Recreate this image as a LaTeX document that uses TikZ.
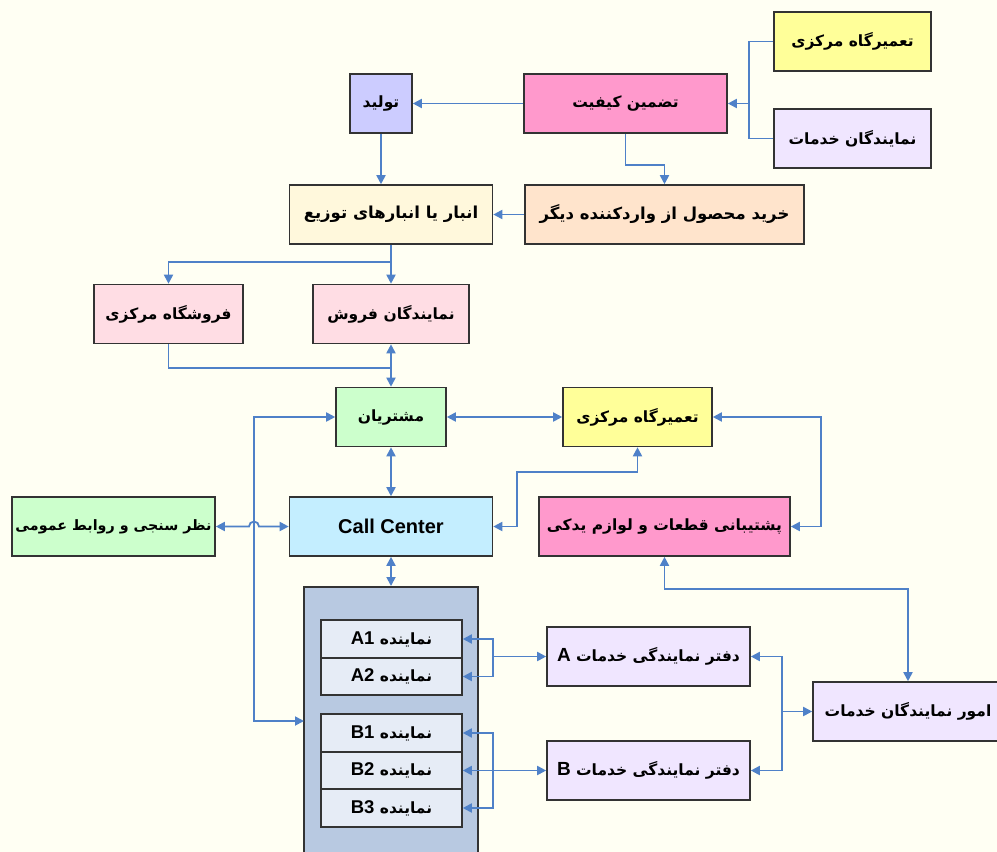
\documentclass[tikz,border=0pt]{standalone}
\usepackage{fontspec}
\setmainfont{Liberation Sans}
\newfontfamily\fafont[Script=Arabic]{DejaVu Sans}
\TeXXeTstate=1
\usetikzlibrary{arrows.meta}

\definecolor{bgcream}{HTML}{FFFFF3}
\definecolor{boxline}{HTML}{333333}
\definecolor{linkblue}{HTML}{4F81C8}
\definecolor{yelbox}{HTML}{FFFF99}
\definecolor{lavbox}{HTML}{F0E6FF}
\definecolor{pinkbox}{HTML}{FF99CC}
\definecolor{lilacbox}{HTML}{CCCCFF}
\definecolor{silkbox}{HTML}{FFF8DC}
\definecolor{peachbox}{HTML}{FFE4CC}
\definecolor{rosebox}{HTML}{FFDDE4}
\definecolor{greenbox}{HTML}{CCFFCC}
\definecolor{cyanbox}{HTML}{C4EEFF}
\definecolor{panelblue}{HTML}{B8C9E1}
\definecolor{rowblue}{HTML}{E6ECF6}

\newcommand\fatxt[2][15.5]{{\fafont\bfseries\fontsize{#1}{20}\selectfont\beginR #2\endR}}
\newcommand\rowtxt[1]{{\fafont\bfseries\fontsize{15.5}{19}\selectfont\beginR نماینده \beginL{\rmfamily\bfseries\fontsize{18.5}{19}\selectfont #1}\endL\endR}}
\newcommand\offtxt[1]{{\fafont\bfseries\fontsize{15.5}{20}\selectfont\beginR دفتر نمایندگی خدمات \beginL{\rmfamily\bfseries\fontsize{19}{20}\selectfont #1}\endL\endR}}

\begin{document}
\begin{tikzpicture}[x=1pt,y=-1pt,
  box/.style={draw=boxline,line width=1.6pt,minimum height=59,inner sep=0pt},
  row/.style={draw=boxline,line width=1.6pt,fill=rowblue,minimum width=141,minimum height=37.5,inner sep=0pt},
  link/.style={draw=linkblue,line width=1.8pt},
  arr/.style={link,-{Triangle[length=9pt,width=9pt]}},
  arrs/.style={link,{Triangle[length=9pt,width=9pt]}-{Triangle[length=9pt,width=9pt]}}]
\useasboundingbox[fill=bgcream] (0,0) rectangle (997,852);

\node[box,fill=yelbox,minimum width=157] (rep1) at (852.5,41.5) {\fatxt{تعمیرگاه مرکزی}};
\node[box,fill=lavbox,minimum width=157] (svc1) at (852.5,138.5) {\fatxt{نمایندگان خدمات}};
\node[box,fill=pinkbox,minimum width=203] (qa) at (625.5,103.5) {\fatxt{تضمین کیفیت}};
\node[box,fill=lilacbox,minimum width=62] (prod) at (381,103.5) {\fatxt{تولید}};
\node[box,fill=silkbox,minimum width=203] (store) at (391,214.5) {\fatxt[16.5]{انبار یا انبارهای توزیع}};
\node[box,fill=peachbox,minimum width=279] (buy) at (664.5,214.5) {\fatxt[16.5]{خرید محصول از واردکننده دیگر}};
\node[box,fill=rosebox,minimum width=149] (shop) at (168.5,314) {\fatxt{فروشگاه مرکزی}};
\node[box,fill=rosebox,minimum width=156] (sales) at (391,314) {\fatxt{نمایندگان فروش}};
\node[box,fill=greenbox,minimum width=110] (cust) at (391,417) {\fatxt{مشتریان}};
\node[box,fill=yelbox,minimum width=149] (rep2) at (637.5,417) {\fatxt{تعمیرگاه مرکزی}};
\node[box,fill=greenbox,minimum width=203] (poll) at (113.5,526.5) {\fatxt[14.3]{نظر سنجی و روابط عمومی}};
\node[box,fill=cyanbox,minimum width=203] (cc) at (391,526.5) {\bfseries\fontsize{20}{22}\selectfont Call Center};
\node[box,fill=pinkbox,minimum width=251] (parts) at (664.5,526.5) {\fatxt{پشتیبانی قطعات و لوازم یدکی}};

\node[box,fill=panelblue,minimum width=174,minimum height=290,anchor=north] (panel) at (391,586) {};
\node[row] (a1) at (391.5,639) {\rowtxt{A1}};
\node[row] (a2) at (391.5,676.5) {\rowtxt{A2}};
\node[row] (b1) at (391.5,733) {\rowtxt{B1}};
\node[row] (b2) at (391.5,770.5) {\rowtxt{B2}};
\node[row] (b3) at (391.5,808) {\rowtxt{B3}};

\node[box,fill=lavbox,minimum width=203] (offA) at (648.5,656.5) {\offtxt{A}};
\node[box,fill=lavbox,minimum width=203] (offB) at (648.5,770.5) {\offtxt{B}};
\node[box,fill=lavbox,minimum width=190] (svcaff) at (908,711.5) {\fatxt{امور نمایندگان خدمات}};

\coordinate (j1) at (749,103.5);
\coordinate (j2) at (391,262);
\coordinate (j3) at (391,368);
\coordinate (pin) at (304,721);
\coordinate (j4) at (782,711.5);
\coordinate (j5) at (493,656.5);
\coordinate (j6) at (493,770.5);

\draw[link] (rep1.west) -| (j1);
\draw[link] (svc1.west) -| (j1);
\draw[arr] (j1) -- (qa.east);
\draw[arr] (qa.west) -- (prod.east);
\draw[arr] (qa.south) -- ++(0,31) -| (buy.north);
\draw[arr] (prod.south) -- (prod.south |- store.north);
\draw[arr] (buy.west) -- (store.east);
\draw[link] (store.south) -- (j2);
\draw[arr] (j2) -| (shop.north);
\draw[arr] (j2) -- (sales.north);
\draw[link] (shop.south) |- (j3);
\draw[arrs] (sales.south) -- (cust.north);
\draw[arrs] (cust.east) -- (rep2.west);
\draw[arrs] (cust.south) -- (cc.north);
\draw[arrs] (cc.south) -- (panel.north);
\draw[arrs] (cust.west) -| (254,721) -- (pin);
\draw[arrs] (poll.east) -- (249,526.5) arc[start angle=180,end angle=360,radius=5] -- (cc.west);
\draw[arrs] (rep2.south) |- (517,472) |- (cc.east);
\draw[arrs] (rep2.east) -- (821,417) |- (parts.east);
\draw[arrs] (parts.south) -- ++(0,32) -| (svcaff.north);
\draw[arr] (j4) -- (svcaff.west);
\draw[arr] (j4) |- (offA.east);
\draw[arr] (j4) |- (offB.east);
\draw[arr] (j5) -- (offA.west);
\draw[arr] (j5) |- (a1.east);
\draw[arr] (j5) |- (a2.east);
\draw[arr] (j6) -- (offB.west);
\draw[arr] (j6) |- (b1.east);
\draw[arr] (j6) -- (b2.east);
\draw[arr] (j6) |- (b3.east);
\end{tikzpicture}
\end{document}
